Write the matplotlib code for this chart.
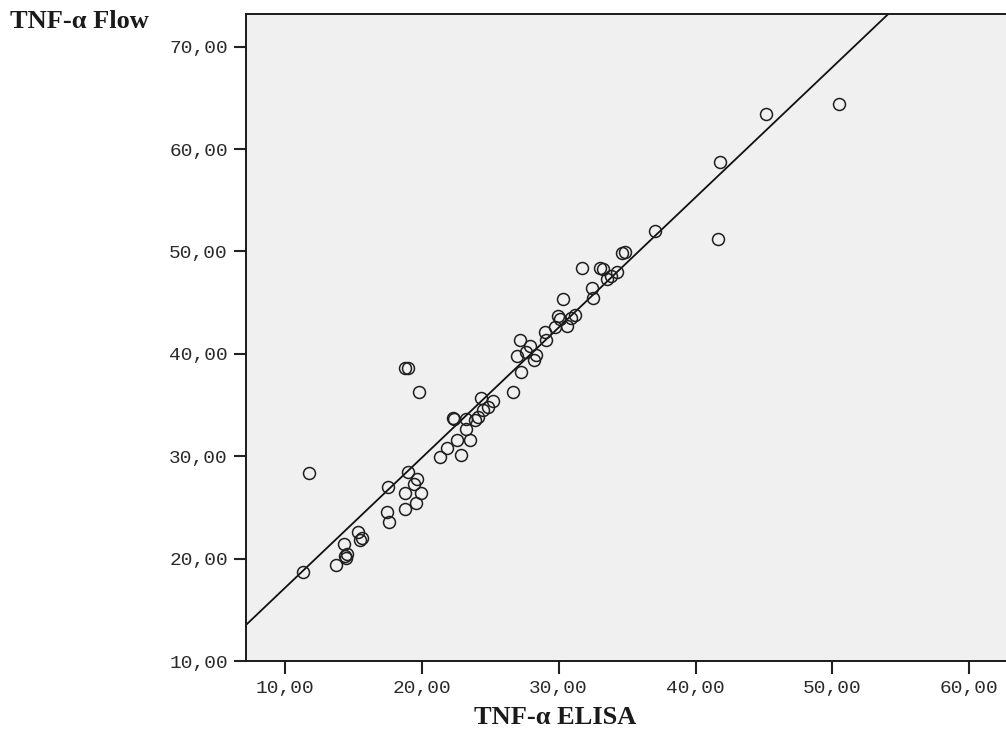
import numpy as np
import matplotlib
matplotlib.use("Agg")
import matplotlib.pyplot as plt

# values (TNF-alpha ELISA vs flow)
elisa = [11.29, 11.78, 13.73, 14.31, 14.38, 14.55, 14.45, 15.35, 15.45, 15.60,
         17.55, 17.43, 17.60, 18.97, 18.77, 18.77, 19.62, 19.43, 19.92, 19.57,
         18.80, 19.00, 19.79, 21.33, 21.81, 22.54, 22.85, 22.35, 23.20, 23.22,
         23.52, 23.88, 24.12, 24.30, 24.49, 24.86, 25.17, 22.28, 26.68, 27.24,
         26.97, 27.20, 27.90, 28.22, 28.34, 27.60, 29.00, 29.07, 29.73, 29.97,
         30.10, 30.58, 30.29, 31.20, 30.90, 31.68, 32.40, 32.48, 33.01, 33.20,
         33.55, 33.80, 34.23, 34.60, 34.85, 37.03, 41.78, 41.64, 45.15, 50.48]
flow = [18.66, 28.33, 19.35, 21.43, 20.26, 20.42, 20.10, 22.63, 21.82, 22.00,
        27.03, 24.58, 23.60, 28.43, 26.38, 24.82, 27.75, 27.30, 26.44, 25.40,
        38.65, 38.65, 36.24, 29.96, 30.78, 31.59, 30.12, 33.60, 33.60, 32.63,
        31.59, 33.54, 33.86, 35.66, 34.52, 34.84, 35.40, 33.73, 36.30, 38.20,
        39.80, 41.35, 40.77, 39.40, 39.89, 40.20, 42.16, 41.35, 42.65, 43.70,
        43.40, 42.72, 45.33, 43.80, 43.50, 48.36, 46.40, 45.43, 48.36, 48.30,
        47.30, 47.60, 48.00, 49.80, 49.95, 52.00, 58.74, 51.22, 63.43, 64.40]

# fit line as drawn in the reference
fit_intercept = 4.43
fit_slope = 1.2714

x_ticks = [10, 20, 30, 40, 50, 60]
y_ticks = [10, 20, 30, 40, 50, 60, 70]

fig = plt.figure(figsize=(10.06, 7.47), dpi=100)
ax = fig.add_axes([0.2445, 0.1151, 0.7555, 0.8658])
ax.set_facecolor("#f0f0f0")

ax.set_xlim(7.15, 62.68)
ax.set_ylim(10, 73.16)

xs = np.array(ax.get_xlim())
ax.plot(xs, fit_intercept + fit_slope * xs, color="#111111", lw=1.3, zorder=2)

ax.plot(elisa, flow, linestyle="none", marker="o", markersize=8.6,
        markerfacecolor="none", markeredgecolor="#1e1e1e", markeredgewidth=1.1,
        zorder=3)

ax.set_xticks(x_ticks)
ax.set_yticks(y_ticks)
ax.set_xticklabels([f"{v:.2f}".replace(".", ",") for v in x_ticks])
ax.set_yticklabels([f"{v:.2f}".replace(".", ",") for v in y_ticks])
ax.tick_params(direction="out", length=9, width=1.5, color="#222222",
               labelsize=14, labelcolor="#2a2a2a", pad=4)
ax.tick_params(axis="x", pad=5)
for lab in ax.get_xticklabels() + ax.get_yticklabels():
    lab.set_fontfamily("Liberation Mono")

for side in ["left", "bottom", "top"]:
    ax.spines[side].set_linewidth(1.4)
    ax.spines[side].set_color("#1a1a1a")
ax.spines["right"].set_visible(False)

fig.text(555.6 / 1006, 1 - 718 / 747, "TNF-α ELISA", ha="center", va="center",
         fontsize=19, fontweight="bold", family="Liberation Serif", color="#1a1a1a")
fig.text(10 / 1006, 1 - 21 / 747, "TNF-α Flow", ha="left", va="center",
         fontsize=19, fontweight="bold", family="Liberation Serif", color="#1a1a1a")

fig.savefig("out.png", dpi=100)
